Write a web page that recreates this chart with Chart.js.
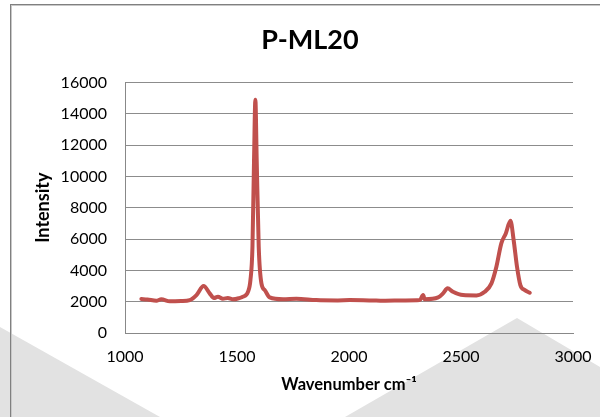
<!DOCTYPE html>
<html lang="en">
<head>
    <meta charset="UTF-8">
    <title>P-ML20</title>
    <script src="https://cdn.jsdelivr.net/npm/chart.js"></script>
    <style>
        body { margin: 0; background: #fff; }
        #wrap { width: 600px; height: 417px; }
    </style>
</head>
<body>
    <div id="wrap"><canvas id="ramanChart" width="600" height="417"></canvas></div>

    <script>
        // spectrum
        const wavenumber = [1073, 1100, 1140, 1162, 1200, 1250, 1289, 1319, 1351, 1378, 1397, 1415, 1437, 1459, 1482,
            1510, 1527, 1549, 1560, 1569, 1576, 1582, 1588, 1597, 1609, 1624, 1646, 1706, 1765, 1854, 1950, 2003,
            2100, 2153, 2250, 2316, 2331, 2338, 2398, 2420, 2440, 2464, 2509, 2569, 2606, 2636, 2658, 2680, 2700,
            2721, 2735, 2750, 2765, 2785, 2807];
        const intensity = [2170, 2140, 2060, 2150, 2020, 2040, 2100, 2420, 3000, 2530, 2230, 2320, 2190, 2230, 2150,
            2230, 2320, 2630, 3380, 5500, 11030, 14900, 11030, 5500, 3170, 2740, 2270, 2150, 2190, 2100, 2080, 2100,
            2080, 2060, 2080, 2100, 2420, 2150, 2270, 2530, 2850, 2630, 2420, 2400, 2630, 3170, 4230, 5720, 6360,
            7160, 5930, 4230, 3060, 2740, 2570];

        const chartTitle = 'P-ML20';
        const xTitle = 'Wavenumber cm\u207B\u00B9';
        const yTitle = 'Intensity';

        const points = wavenumber.map((w, i) => ({ x: w, y: intensity[i] }));

        // grey watermark shapes + outer frame, drawn behind the chart
        const backdrop = {
            id: 'backdrop',
            beforeDraw(chart) {
                const ctx = chart.ctx;
                ctx.save();
                ctx.fillStyle = '#e2e2e2';
                ctx.beginPath();
                ctx.moveTo(0, 327);
                ctx.lineTo(160, 417);
                ctx.lineTo(0, 417);
                ctx.closePath();
                ctx.fill();
                ctx.beginPath();
                ctx.moveTo(345, 417);
                ctx.lineTo(517, 318);
                ctx.lineTo(600, 367);
                ctx.lineTo(600, 417);
                ctx.closePath();
                ctx.fill();
                ctx.strokeStyle = '#c8c8c8';
                ctx.lineWidth = 1;
                ctx.strokeRect(11.5, 5.5, 700, 600);
                ctx.strokeStyle = '#808080';
                ctx.strokeRect(10.5, 4.5, 700, 600);
                ctx.restore();
            }
        };

        const plainNumber = v => String(v);

        new Chart(document.getElementById('ramanChart'), {
            type: 'line',
            data: {
                datasets: [{
                    data: points,
                    borderColor: '#c0504d',
                    borderWidth: 4,
                    borderJoinStyle: 'round',
                    borderCapStyle: 'round',
                    pointRadius: 0,
                    cubicInterpolationMode: 'monotone',
                    fill: false
                }]
            },
            options: {
                responsive: false,
                animation: false,
                layout: { padding: { left: 20, right: 0, top: 0, bottom: 0 } },
                plugins: {
                    legend: { display: false },
                    tooltip: { enabled: false },
                    title: {
                        display: true,
                        text: chartTitle,
                        color: '#000',
                        font: { family: 'Lato', size: 27, weight: 'bold' },
                        padding: { top: 24, bottom: 26 }
                    }
                },
                scales: {
                    x: {
                        type: 'linear',
                        min: 1000,
                        max: 3000,
                        ticks: {
                            stepSize: 500,
                            padding: 14,
                            color: '#000',
                            font: { family: 'Lato', size: 16 },
                            callback: plainNumber
                        },
                        grid: { display: false, drawTicks: false },
                        border: { color: '#888', width: 1 },
                        title: {
                            display: true,
                            text: xTitle,
                            color: '#000',
                            font: { family: 'Lato', size: 16.5, weight: 'bold' },
                            padding: { top: 0, bottom: 22 }
                        },
                        afterFit(scale) {
                            scale.height = 84;
                            scale.paddingRight = 27;
                        }
                    },
                    y: {
                        min: 0,
                        max: 16000,
                        ticks: {
                            stepSize: 2000,
                            padding: 18,
                            color: '#000',
                            font: { family: 'Lato', size: 16 },
                            callback: plainNumber
                        },
                        grid: { color: '#8c8c8c', drawTicks: false },
                        border: { color: '#888', width: 1 },
                        title: {
                            display: true,
                            text: yTitle,
                            color: '#000',
                            font: { family: 'Lato', size: 18, weight: 'bold' },
                            padding: { top: 12, bottom: 0 }
                        },
                        afterFit(scale) {
                            scale.width = 105;
                        }
                    }
                }
            },
            plugins: [backdrop]
        });
    </script>
</body>
</html>
